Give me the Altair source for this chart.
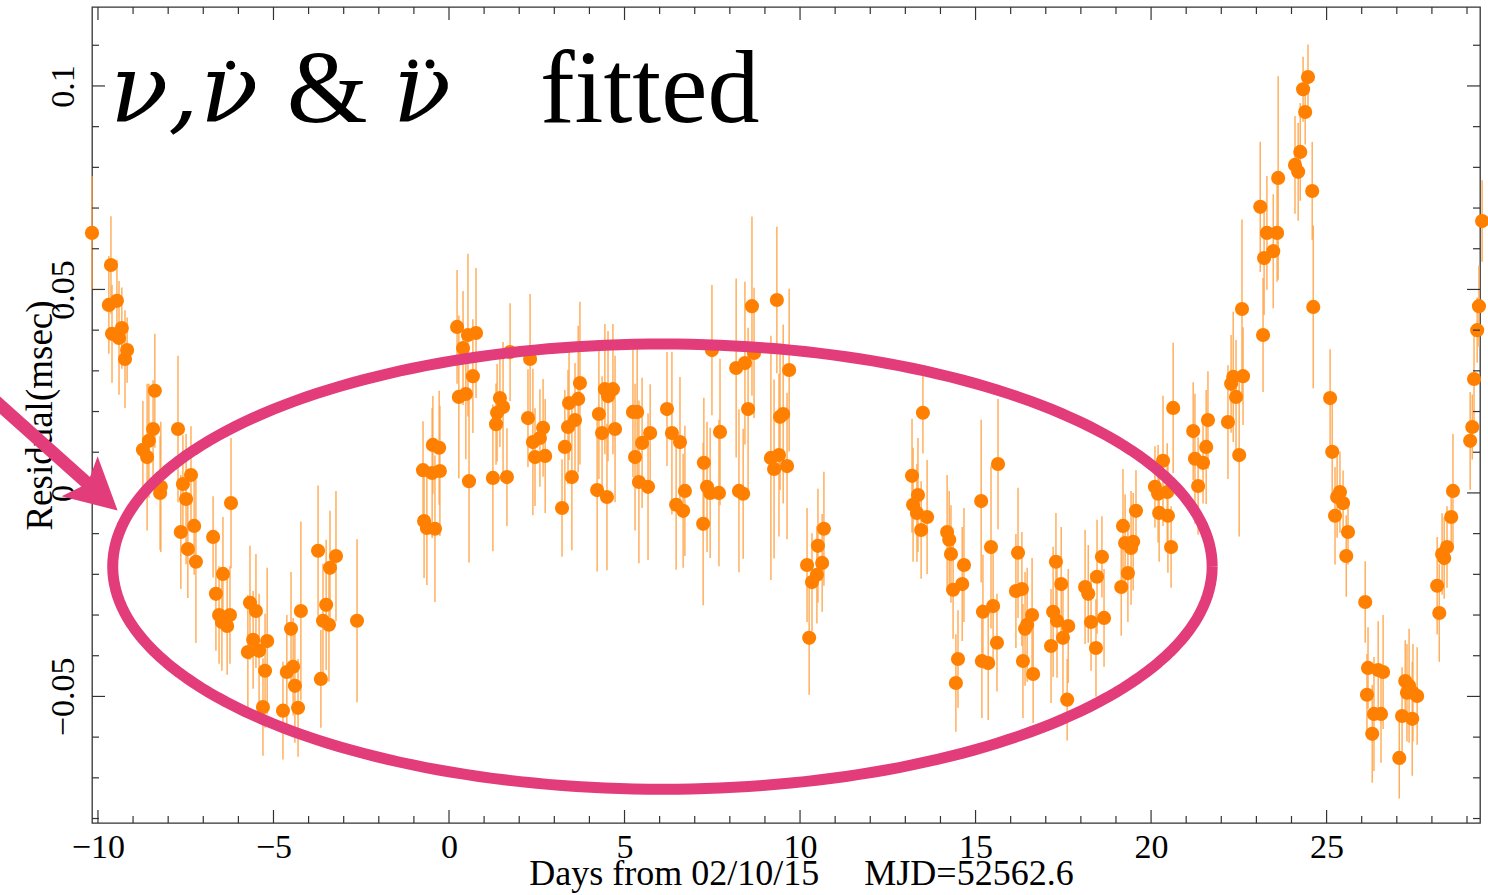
import altair as alt
import numpy as np
import pandas as pd

# ---------------- data ----------------
days = [
    -10.17, -9.63, -9.69, -9.46, -9.60, -9.40, -9.32, -9.17, -9.23, -8.38,
    -8.43, -8.55, -8.72, -8.60, -7.72, -8.21, -8.23, -7.58, -7.35, -7.49,
    -6.21, -7.64, -7.26, -6.72, -7.44, -7.21, -6.44, -6.64, -6.55, -6.24,
    -6.47, -6.32, -5.67, -5.50, -5.58, -5.73, -5.41, -5.18, -5.24, -5.30,
    -4.50, -4.22, -4.62, -4.44, -4.39, -4.73, -4.30, -3.73, -3.39, -3.22,
    -3.50, -3.59, -3.42, -3.65, -2.62,
    -0.74, -0.48, -0.26, -0.46, -0.28, -0.63, -0.40, -0.71, 0.23, 0.54,
    0.77, 0.40, 0.68, 0.28, 0.48, 0.57, 1.74, 2.31, 1.25, 1.65,
    1.45, 1.54, 1.37, 1.34, 2.25, 2.39, 2.68, 2.59, 2.45, 2.74,
    3.30, 3.50, 3.22, 3.73, 3.68, 3.42, 3.59, 3.39, 4.27, 4.36,
    4.73, 4.44, 4.67, 4.53, 4.22, 4.50, 5.24, 5.36, 5.30, 5.50,
    5.73, 5.41, 5.67, 6.21, 6.35, 6.58, 6.72, 6.47, 6.67, 7.26,
    7.35, 7.44, 7.69, 7.24, 7.49, 7.72, 8.26, 8.38, 8.18, 8.43,
    8.69, 8.63, 8.52, 9.34, 9.69, 9.52, 9.43, 9.17, 9.40, 9.26,
    9.63, 10.20, 10.51, 10.68, 10.63, 10.48, 10.34, 10.26,
    13.50, 13.19, 13.36, 13.22, 13.33, 13.62, 13.45, 15.64, 15.16, 14.19,
    14.25, 14.30, 14.67, 14.36, 14.62, 15.21, 15.50, 15.44, 15.61, 14.50,
    14.44, 15.36, 15.18, 16.21, 16.15, 16.32, 16.61, 16.47, 16.41, 16.35,
    16.64, 17.29, 17.44, 17.21, 17.32, 17.64, 17.49, 17.15, 17.61, 18.12,
    18.21, 18.46, 18.60, 18.29, 18.66, 18.43, 19.15, 19.20, 19.26, 19.49,
    19.43, 19.34, 19.57, 20.11, 20.34, 20.46, 20.20, 20.23, 20.48, 20.57,
    20.63, 21.20, 21.62, 21.57, 21.25, 21.48, 21.34,
    22.19, 22.51, 22.34, 22.62, 22.28, 22.42, 22.59, 23.19, 23.11, 23.30,
    23.59, 23.22, 23.48, 23.62, 24.47, 24.33, 24.39, 24.25, 24.10, 24.19,
    24.59, 24.62, 25.10, 25.16, 25.38, 25.30, 25.47, 25.24, 25.61, 25.56,
    26.10, 26.18, 26.47, 26.61, 26.15, 26.35, 26.55, 26.30, 27.07, 27.24,
    27.35, 27.29, 27.46, 27.58, 27.15, 27.44, 28.15, 28.21, 28.29, 28.35,
    28.43, 28.55, 28.60, 29.09, 29.15, 29.20, 29.29, 29.34, 29.43,
]

residual = [
    0.0639, 0.0560, 0.0462, 0.0472, 0.0391, 0.0381, 0.0405, 0.0351, 0.0329, 0.0251,
    0.0157, 0.0128, 0.0106, 0.0088, 0.0157, 0.0015, 0.0000, 0.0022, 0.0044, -0.0015,
    -0.0025, -0.0096, -0.0081, -0.0108, -0.0138, -0.0169, -0.0199, -0.0248, -0.0300, -0.0300,
    -0.0317, -0.0327, -0.0270, -0.0290, -0.0361, -0.0391, -0.0388, -0.0364, -0.0437, -0.0526,
    -0.0334, -0.0290, -0.0440, -0.0427, -0.0474, -0.0535, -0.0528, -0.0142, -0.0184, -0.0155,
    -0.0275, -0.0314, -0.0324, -0.0457, -0.0314,
    0.0056, 0.0049, 0.0054, 0.0118, 0.0111, -0.0086, -0.0088, -0.0069, 0.0408, 0.0388,
    0.0393, 0.0356, 0.0287, 0.0236, 0.0243, 0.0029, 0.0346, 0.0329, 0.0037, 0.0039,
    0.0233, 0.0211, 0.0197, 0.0169, 0.0184, 0.0125, 0.0160, 0.0135, 0.0088, 0.0091,
    0.0113, 0.0039, -0.0037, 0.0270, 0.0231, 0.0221, 0.0179, 0.0162, 0.0194, 0.0147,
    0.0157, 0.0255, 0.0255, 0.0238, 0.0007, -0.0010, 0.0199, 0.0199, 0.0088, 0.0123,
    0.0147, 0.0027, 0.0015, 0.0206, 0.0147, 0.0125, 0.0005, -0.0029, -0.0044, 0.0074,
    0.0015, 0.0000, 0.0000, -0.0076, 0.0351, 0.0150, 0.0005, -0.0002, 0.0307, 0.0319,
    0.0344, 0.0459, 0.0206, 0.0474, 0.0302, 0.0194, 0.0187, 0.0086, 0.0093, 0.0059,
    0.0066, -0.0177, -0.0130, -0.0088, -0.0172, -0.0201, -0.0219, -0.0356,
    0.0197, 0.0042, -0.0005, -0.0029, -0.0049, -0.0059, -0.0091, 0.0071, -0.0020, -0.0096,
    -0.0115, -0.0150, -0.0177, -0.0238, -0.0224, -0.0292, -0.0278, -0.0133, -0.0368, -0.0408,
    -0.0467, -0.0418, -0.0413, -0.0147, -0.0241, -0.0236, -0.0300, -0.0324, -0.0334, -0.0413,
    -0.0445, -0.0169, -0.0224, -0.0292, -0.0314, -0.0327, -0.0356, -0.0376, -0.0508, -0.0231,
    -0.0248, -0.0206, -0.0157, -0.0317, -0.0307, -0.0381, -0.0231, -0.0081, -0.0123, -0.0120,
    -0.0135, -0.0197, -0.0044, 0.0015, 0.0079, 0.0002, -0.0002, -0.0049, -0.0056, -0.0133,
    0.0209, 0.0152, 0.0179, 0.0113, 0.0084, 0.0074, 0.0017,
    0.0174, 0.0093, 0.0285, 0.0287, 0.0268, 0.0236, 0.0452, 0.0388, 0.0703, 0.0639,
    0.0639, 0.0577, 0.0594, 0.0774, 0.1022, 0.0992, 0.0936, 0.0838, 0.0806, 0.0789,
    0.0742, 0.0457, 0.0233, 0.0101, 0.0002, -0.0010, -0.0025, -0.0056, -0.0096, -0.0155,
    -0.0268, -0.0430, -0.0435, -0.0440, -0.0496, -0.0543, -0.0543, -0.0592, -0.0651, -0.0462,
    -0.0474, -0.0491, -0.0491, -0.0499, -0.0548, -0.0555, -0.0228, -0.0295, -0.0150, -0.0160,
    -0.0133, -0.0059, 0.0005, 0.0128, 0.0162, 0.0280, 0.0400, 0.0459, 0.0668,
]

error = [
    0.014, 0.012, 0.012, 0.010, 0.012, 0.014, 0.010, 0.008, 0.012, 0.014,
    0.012, 0.014, 0.012, 0.018, 0.018, 0.016, 0.014, 0.012, 0.012, 0.016,
    0.016, 0.014, 0.012, 0.010, 0.012, 0.020, 0.014, 0.014, 0.012, 0.012,
    0.012, 0.012, 0.014, 0.014, 0.012, 0.014, 0.014, 0.018, 0.014, 0.012,
    0.014, 0.022, 0.014, 0.012, 0.014, 0.012, 0.012, 0.016, 0.014, 0.016,
    0.016, 0.014, 0.014, 0.012, 0.020,
    0.012, 0.016, 0.016, 0.012, 0.014, 0.014, 0.018, 0.014, 0.014, 0.020,
    0.016, 0.014, 0.014, 0.020, 0.016, 0.020, 0.012, 0.016, 0.018, 0.012,
    0.012, 0.016, 0.012, 0.010, 0.012, 0.018, 0.012, 0.012, 0.012, 0.014,
    0.014, 0.018, 0.012, 0.020, 0.018, 0.014, 0.014, 0.014, 0.016, 0.014,
    0.018, 0.016, 0.016, 0.016, 0.020, 0.018, 0.016, 0.016, 0.018, 0.016,
    0.012, 0.020, 0.018, 0.014, 0.020, 0.016, 0.016, 0.016, 0.014, 0.016,
    0.016, 0.016, 0.018, 0.020, 0.016, 0.018, 0.020, 0.016, 0.022, 0.020,
    0.016, 0.022, 0.020, 0.018, 0.020, 0.022, 0.018, 0.030, 0.020, 0.022,
    0.018, 0.014, 0.014, 0.014, 0.012, 0.012, 0.012, 0.014,
    0.010, 0.014, 0.014, 0.014, 0.012, 0.014, 0.012, 0.016, 0.020, 0.014,
    0.012, 0.012, 0.014, 0.012, 0.014, 0.014, 0.014, 0.020, 0.012, 0.012,
    0.012, 0.014, 0.014, 0.016, 0.014, 0.014, 0.014, 0.014, 0.014, 0.014,
    0.012, 0.012, 0.014, 0.016, 0.014, 0.014, 0.014, 0.014, 0.010, 0.014,
    0.012, 0.014, 0.010, 0.012, 0.012, 0.012, 0.012, 0.014, 0.012, 0.012,
    0.014, 0.012, 0.010, 0.010, 0.016, 0.012, 0.012, 0.012, 0.014, 0.010,
    0.016, 0.012, 0.012, 0.014, 0.016, 0.010, 0.012,
    0.014, 0.020, 0.016, 0.012, 0.012, 0.014, 0.022, 0.014, 0.016, 0.014,
    0.012, 0.014, 0.014, 0.025, 0.008, 0.008, 0.008, 0.012, 0.012, 0.012,
    0.012, 0.020, 0.012, 0.012, 0.010, 0.010, 0.008, 0.012, 0.008, 0.010,
    0.010, 0.010, 0.012, 0.014, 0.010, 0.014, 0.012, 0.012, 0.010, 0.010,
    0.014, 0.012, 0.012, 0.012, 0.012, 0.014, 0.012, 0.012, 0.010, 0.010,
    0.010, 0.008, 0.014, 0.012, 0.008, 0.012, 0.008, 0.010, 0.010,
]

x_major = [-10, -5, 0, 5, 10, 15, 20, 25]
x_minor = [d for d in range(-10, 30) if d % 5 != 0]
y_major = [-0.05, 0.0, 0.05, 0.1]
y_minor = [k / 100 for k in range(-8, 12) if k % 5 != 0]

# annotation: ellipse (centre and radii in data units) and arrow
ell_cx, ell_cy, ell_a, ell_b = 6.08, -0.0181, 15.66, 0.0547
arrow_x = [-13.08, -10.28]
arrow_y = [0.0238, 0.0022]
head_x, head_y = -10.01, 0.0001

# big label: glyphs and the accent dots
ital_x = [-9.66, -7.09, -1.60]
ital_s = ["\u03bd,", "\u03bd", "\u03bd"]
roman_x = [-4.62, 2.59]
roman_s = ["&", "fitted"]
label_y = 0.0911
dot_x = [-6.22, -1.03, -0.54]
dot_y = [0.1051, 0.1054, 0.1054]

XMIN, XMAX = -10.17, 29.37
YMIN, YMAX = -0.0811, 0.1194
W, H = 1388, 816

ORANGE = "#FF8000"
BAR = "#FFA64D"
PINK = "#E23C7A"
BOX = "#333333"
SERIF = "Liberation Serif"

df = pd.DataFrame({"day": days, "res": residual, "err": error})
df["lo"] = df["res"] - df["err"]
df["hi"] = df["res"] + df["err"]

xs = alt.Scale(domain=[XMIN, XMAX], nice=False, zero=False)
ys = alt.Scale(domain=[YMIN, YMAX], nice=False, zero=False)

X_TITLE = "Days from 02/10/15\u00a0\u00a0\u00a0\u00a0\u00a0MJD=52562.6"
Y_TITLE = "Residual(msec)"

x_axis = alt.Axis(
    values=x_major, format="d", domain=False, ticks=False, tickSize=0, grid=False,
    labelFont=SERIF, labelFontSize=34, labelColor="black", labelPadding=7,
    labelBaseline="top", labelFlush=False, labelOverlap=False,
    title=X_TITLE,
    titleFont=SERIF, titleFontSize=36, titleFontWeight="normal", titleColor="black",
    titleX=709, titleY=61, titleAlign="center", titleBaseline="alphabetic",
)
y_axis = alt.Axis(
    values=y_major, format="~g", domain=False, ticks=False, tickSize=0, grid=False,
    labelFont=SERIF, labelFontSize=34, labelColor="black", labelPadding=19,
    labelAngle=270, labelAlign="center", labelBaseline="alphabetic",
    labelFlush=False, labelOverlap=False,
    title=Y_TITLE, titleFont=SERIF, titleFontSize=37, titleFontWeight="normal",
    titleColor="black", titleAngle=270, titleX=-41, titleY=408,
    titleAlign="center", titleBaseline="alphabetic",
)


def X(field):
    return alt.X(field, scale=xs, axis=x_axis)


def Y(field):
    return alt.Y(field, scale=ys, axis=y_axis)


base = alt.Chart(df)
bars = base.mark_rule(color=BAR, strokeWidth=1.5, opacity=0.9).encode(
    x=X("day:Q"), y=Y("lo:Q"), y2="hi:Q",
)
points = base.mark_circle(color=ORANGE, size=200, opacity=1).encode(
    x=X("day:Q"), y=Y("res:Q"),
)


# inward ticks on all four sides
def xticks(vals, length):
    d = pd.DataFrame({"t": vals})
    bot = alt.Chart(d).mark_rule(color=BOX, strokeWidth=1.2).encode(
        x=X("t:Q"), y=alt.value(H), y2=alt.value(H - length))
    top = alt.Chart(d).mark_rule(color=BOX, strokeWidth=1.2).encode(
        x=X("t:Q"), y=alt.value(0), y2=alt.value(length))
    return [bot, top]


def yticks(vals, length):
    d = pd.DataFrame({"t": vals})
    left = alt.Chart(d).mark_rule(color=BOX, strokeWidth=1.2).encode(
        y=Y("t:Q"), x=alt.value(0), x2=alt.value(length))
    right = alt.Chart(d).mark_rule(color=BOX, strokeWidth=1.2).encode(
        y=Y("t:Q"), x=alt.value(W), x2=alt.value(W - length))
    return [left, right]


tick_layers = xticks(x_major, 13) + xticks(x_minor, 7) + yticks(y_major, 13) + yticks(y_minor, 7)

# ellipse annotation
tt = np.linspace(0, 2 * np.pi, 241)
ell = pd.DataFrame({
    "ex": ell_cx + ell_a * np.cos(tt),
    "ey": ell_cy + ell_b * np.sin(tt),
    "o": np.arange(len(tt)),
})
ellipse = alt.Chart(ell).mark_line(color=PINK, strokeWidth=11, strokeJoin="round").encode(
    x=X("ex:Q"), y=Y("ey:Q"), order="o:Q",
)

# arrow annotation
shaft = alt.Chart(pd.DataFrame({"ax": arrow_x, "ay": arrow_y})).mark_line(
    color=PINK, strokeWidth=13, strokeCap="butt").encode(
    x=X("ax:Q"), y=Y("ay:Q"),
)
head = alt.Chart(pd.DataFrame({"hx": [head_x], "hy": [head_y]})).mark_point(
    shape="M0,-1L1,0.9L0,0.5L-1,0.9Z", filled=True, size=2900, angle=132,
    color=PINK, opacity=1, strokeWidth=0).encode(
    x=X("hx:Q"), y=Y("hy:Q"),
)

# big label text
ital = pd.DataFrame({"lx": ital_x, "ly": [label_y] * len(ital_x), "s": ital_s})
roman = pd.DataFrame({"lx": roman_x, "ly": [label_y] * len(roman_x), "s": roman_s})
dots = pd.DataFrame({"dx": dot_x, "dy": dot_y})
ital_txt = alt.Chart(ital).mark_text(
    font="DejaVu Serif", fontSize=96, fontStyle="italic", align="left",
    baseline="alphabetic", color="black").encode(
    x=X("lx:Q"), y=Y("ly:Q"), text="s:N")
roman_txt = alt.Chart(roman).mark_text(
    font=SERIF, fontSize=104, align="left", baseline="alphabetic", color="black").encode(
    x=X("lx:Q"), y=Y("ly:Q"), text="s:N")
dot_marks = alt.Chart(dots).mark_circle(color="black", size=80, opacity=1).encode(
    x=X("dx:Q"), y=Y("dy:Q"))

chart = alt.layer(
    bars, points, *tick_layers, ellipse, shaft, head, ital_txt, roman_txt, dot_marks
).properties(
    width=W, height=H,
    autosize=alt.AutoSizeParams(type="none"),
    padding={"left": 92, "top": 7, "right": 8, "bottom": 72},
    background="white",
).configure_view(stroke=BOX, strokeWidth=1.3)

chart.save("out.html", embed_options={"renderer": "svg", "actions": False})
